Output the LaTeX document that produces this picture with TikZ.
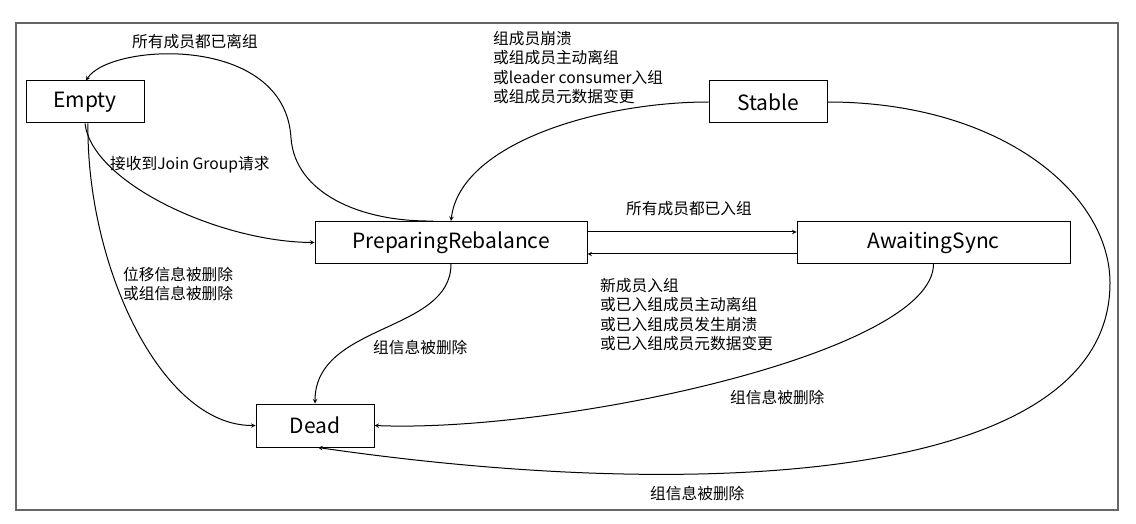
\documentclass[tikz,border=0pt]{standalone}
\usepackage{fontspec}
\setmainfont{Noto Sans CJK SC}
\usetikzlibrary{arrows}

\begin{document}
\begin{tikzpicture}[x=1pt, y=1pt, >=stealth,
    state/.style={draw, line width=1pt, minimum width=118pt, minimum height=42pt,
      inner sep=0pt, font=\fontsize{21}{24}\selectfont},
    lbl/.style={inner sep=0pt, align=left, font=\fontsize{15.7}{19.5}\selectfont},
    flow/.style={->, line width=1pt}]
  \useasboundingbox (0,0) rectangle (1136,523);
  \draw[line width=1.5pt, gray!80!black] (16,13) rectangle (1118,500);

  % states
  \node[state] (empty) at (85,421) {Empty};
  \node[state] (stable) at (768,421) {Stable};
  \node[state, minimum width=272pt] (prep) at (451,280.5) {PreparingRebalance};
  \node[state, minimum width=273pt] (sync) at (933.5,280.5) {AwaitingSync};
  \node[state, minimum height=43pt] (dead) at (315,97.5) {Dead};

  % labels
  \node[lbl] (lleft) at (195,481) {所有成员都已离组};
  \node[lbl, anchor=west] (lrebal) at (493,455.5)
    {组成员崩溃\\或组成员主动离组\\或leader consumer入组\\或组成员元数据变更};
  \node[lbl, anchor=west] (ljoin) at (110,358) {接收到Join Group请求};
  \node[lbl, anchor=west] (lremove) at (123,239) {位移信息被删除\\或组信息被删除};
  \node[lbl] (lsync) at (689,314) {所有成员都已入组};
  \node[lbl, anchor=west] (lback) at (600,208.5)
    {新成员入组\\或已入组成员主动离组\\或已入组成员发生崩溃\\或已入组成员元数据变更};
  \node[lbl, anchor=west] (ldel1) at (373,176) {组信息被删除};
  \node[lbl, anchor=west] (ldel2) at (730,126) {组信息被删除};
  \node[lbl, anchor=west] (ldel3) at (650,30) {组信息被删除};

  % transitions
  \draw[flow] ([xshift=-18pt]prep.north) .. controls (360,301) and (295,330) .. (291,385)
    .. controls (285,490) and (110,480) .. ([xshift=1pt]empty.north);
  \draw[flow] (stable.west) .. controls (600,421) and (460,380) .. (prep.north);
  \draw[flow] (empty.south) .. controls (92,340) and (220,281) .. (prep.west);
  \draw[flow] ([xshift=3pt]empty.south) .. controls (86,260) and (160,97) .. (dead.west);
  \draw[flow] ([yshift=10.5pt]prep.east) -- ([yshift=10.5pt]sync.west);
  \draw[flow] ([yshift=-11.5pt]sync.west) -- ([yshift=-11.5pt]prep.east);
  \draw[flow] (prep.south) .. controls (451,190) and (315,200) .. (dead.north);
  \draw[flow] (sync.south) .. controls (933.5,170) and (560,90) .. (dead.east);
  \draw[flow] (stable.east) .. controls (1000,421) and (1110,330) .. (1110,240)
    .. controls (1110,40) and (700,20) .. ([xshift=3pt]dead.south);
\end{tikzpicture}
\end{document}
